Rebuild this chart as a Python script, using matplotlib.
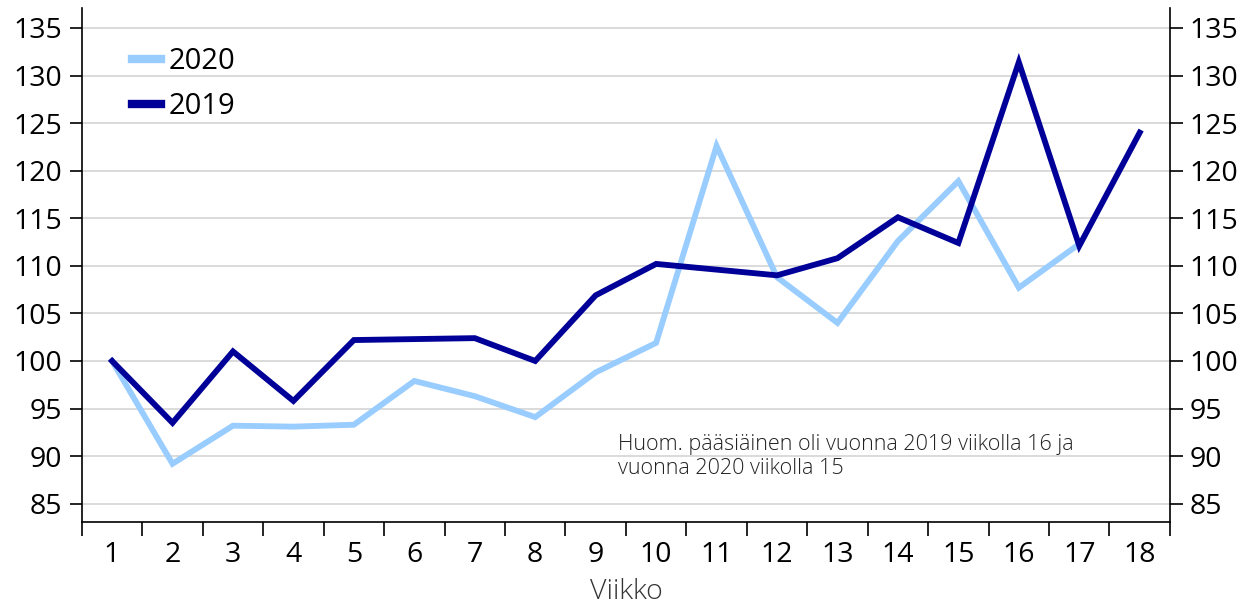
import numpy as np
import matplotlib
matplotlib.use('Agg')
import matplotlib.pyplot as plt

weeks = list(range(1, 19))
v2019 = [100.0, 93.5, 101.0, 95.8, 102.2, 102.3, 102.4, 100.0, 106.9, 110.2,
         109.6, 109.0, 110.8, 115.1, 112.4, 131.4, 112.1, 124.0]
v2020 = [100.0, 89.2, 93.2, 93.1, 93.3, 97.9, 96.3, 94.1, 98.8, 101.9,
         122.6, 108.8, 104.0, 112.6, 118.9, 107.7, 112.3]
yticks = list(range(85, 136, 5))
note = "Huom. pääsiäinen oli vuonna 2019 viikolla 16 ja\nvuonna 2020 viikolla 15"

plt.rcParams['font.family'] = ['Open Sans', 'DejaVu Sans']

fig = plt.figure(figsize=(12.4, 6.11), dpi=100)
ax = fig.add_axes([0.066, 0.146, 0.8775, 0.841])

ax.plot(weeks[:len(v2020)], v2020, color='#99ccff', lw=4.2, label='2020', solid_joinstyle='miter')
ax.plot(weeks, v2019, color='#000099', lw=4.2, label='2019', solid_joinstyle='miter')

ax.set_xlim(0.5, 18.5)
ax.set_ylim(83.1, 137.1)
ax.set_yticks(yticks)
ax.set_xticks(weeks)
ax.set_xticks(np.arange(0.5, 19, 1), minor=True)
ax.tick_params(axis='x', which='major', length=0, labelsize=20.5, pad=14)
ax.tick_params(axis='x', which='minor', length=10, width=1.2, direction='out')
ax.tick_params(axis='y', which='major', length=9, width=1.2, labelsize=20.5,
               left=True, right=True, labelleft=True, labelright=True, pad=5)
ax.grid(axis='y', color='#d4d4d4', lw=1.2)
ax.set_axisbelow(True)
for s in ['left', 'right', 'bottom']:
    ax.spines[s].set_linewidth(1.2)
ax.spines['top'].set_visible(False)

ax.set_xlabel('Viikko', fontsize=20.5, color='#333333', labelpad=6, fontweight='light')

ax.text(0.493, 0.17, note, transform=ax.transAxes, fontsize=15.5, color='#222222',
        va='top', ha='left', linespacing=1.15, fontweight='light')

leg = ax.legend(loc='upper left', bbox_to_anchor=(0.022, 0.975), frameon=False,
                fontsize=21, handlelength=1.0, handletextpad=0.25, labelspacing=0.55)
for h in leg.get_lines():
    h.set_linewidth(6)

fig.savefig('out.png', dpi=100)
